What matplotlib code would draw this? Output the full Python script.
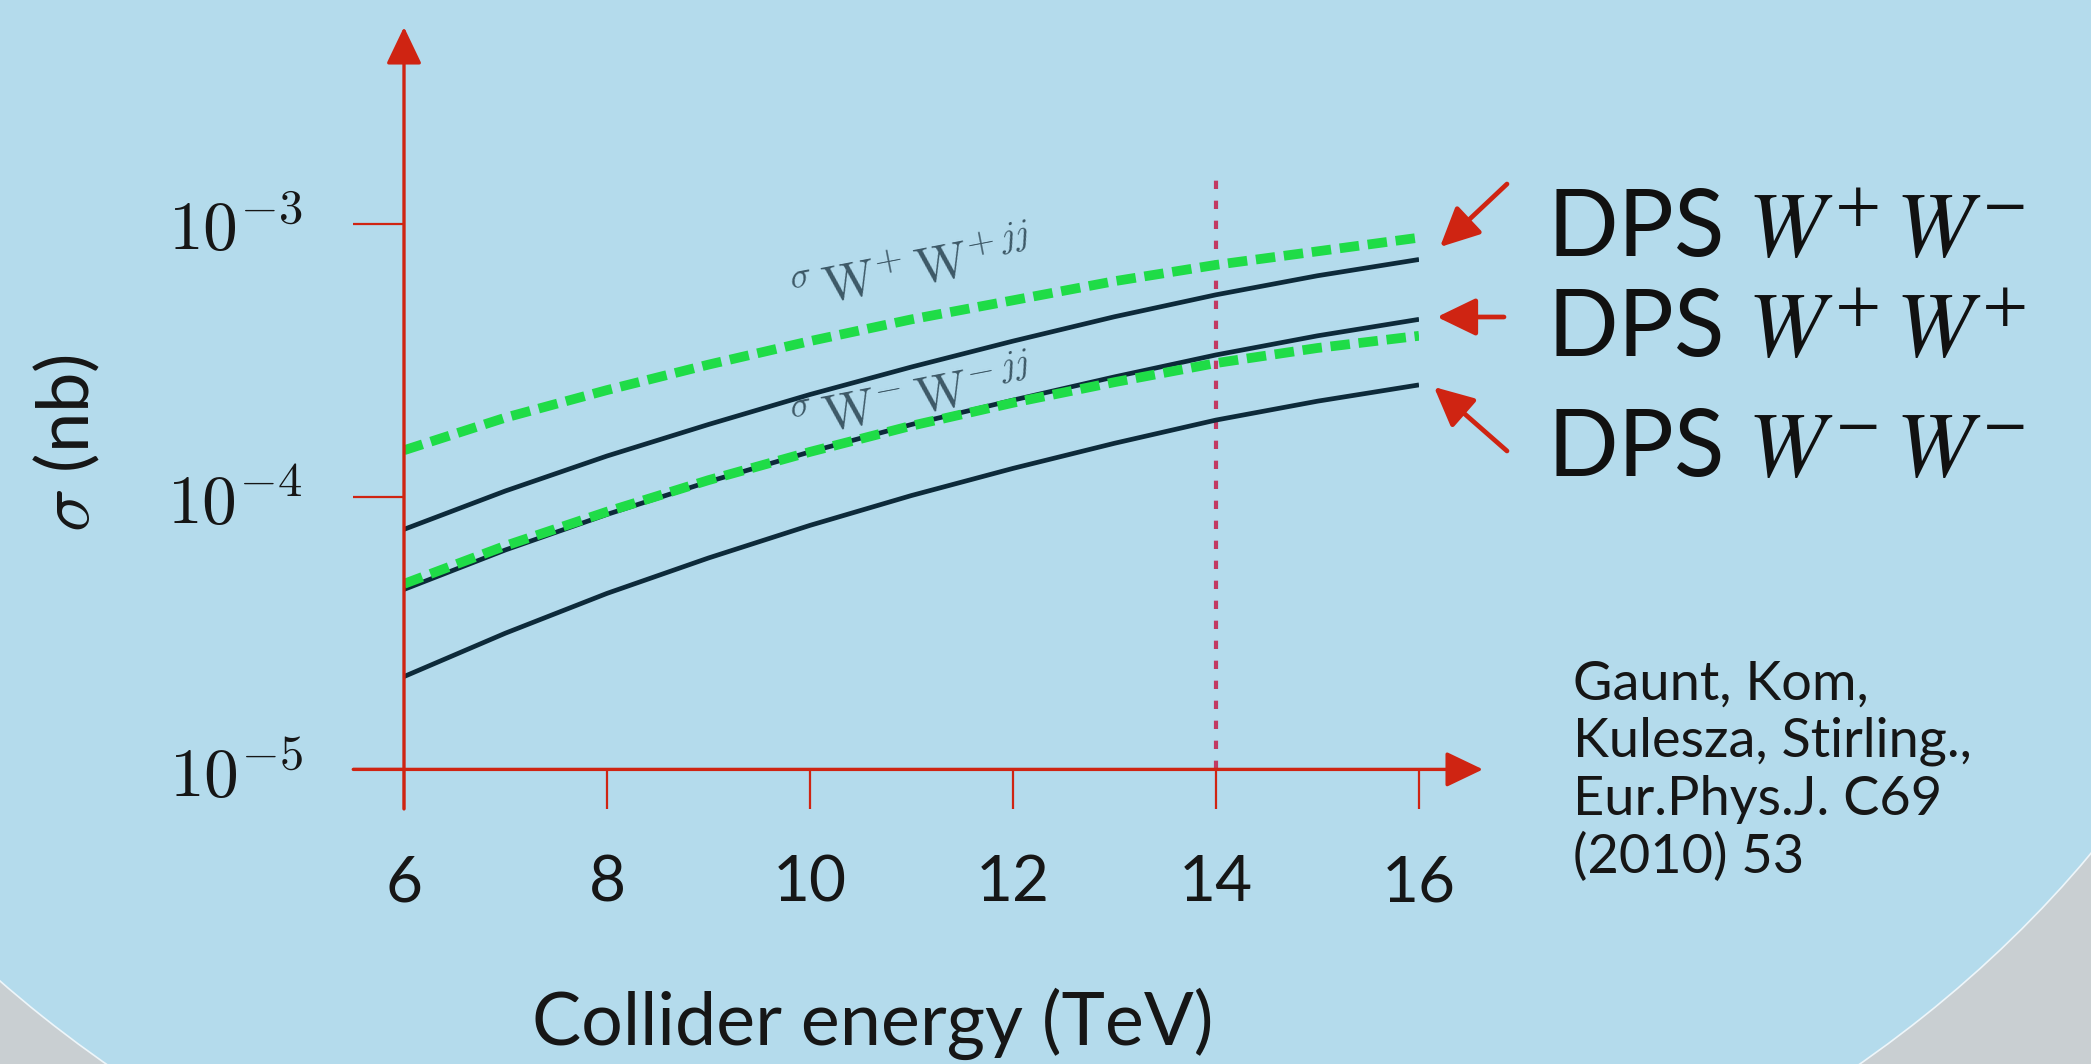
import matplotlib
matplotlib.use("Agg")
import matplotlib.pyplot as plt
from matplotlib.patches import Ellipse
from matplotlib.ticker import NullLocator

plt.rcParams['font.family'] = ['Lato', 'DejaVu Sans']
plt.rcParams['mathtext.fontset'] = 'cm'

# collider energy (TeV) and cross sections (nb)
ENERGY = [6, 7, 8, 9, 10, 11, 12, 13, 14, 15, 16]
DPS_PM = [7.59e-5, 1.05e-4, 1.41e-4, 1.84e-4, 2.37e-4, 2.99e-4, 3.72e-4, 4.57e-4, 5.50e-4, 6.46e-4, 7.41e-4]
DPS_PP = [4.57e-5, 6.38e-5, 8.61e-5, 1.135e-4, 1.46e-4, 1.84e-4, 2.26e-4, 2.75e-4, 3.31e-4, 3.89e-4, 4.47e-4]
DPS_MM = [2.19e-5, 3.16e-5, 4.42e-5, 5.96e-5, 7.85e-5, 1.01e-4, 1.27e-4, 1.57e-4, 1.91e-4, 2.24e-4, 2.57e-4]
JJ_PP = [1.48e-4, 1.95e-4, 2.46e-4, 3.05e-4, 3.72e-4, 4.47e-4, 5.25e-4, 6.17e-4, 7.08e-4, 7.94e-4, 8.91e-4]
JJ_MM = [4.79e-5, 6.61e-5, 8.81e-5, 1.15e-4, 1.46e-4, 1.82e-4, 2.21e-4, 2.63e-4, 3.09e-4, 3.51e-4, 3.89e-4]

LHC_ENERGY = 14
LHC_LINE_TOP = 1.57e-3

X_TICKS = [6, 8, 10, 12, 14, 16]
Y_TICKS = [1e-5, 1e-4, 1e-3]
Y_TICK_LABELS = [r"$10^{-5}$", r"$10^{-4}$", r"$10^{-3}$"]

DPS_LABELS = [r"DPS $W^{+}\,W^{-}$", r"DPS $W^{+}\,W^{+}$", r"DPS $W^{-}\,W^{-}$"]
JJ_LABELS = [r"$^{\sigma}\,\mathrm{W}^{+}\,\mathrm{W}^{+}{}^{jj}$", r"$^{\sigma}\,\mathrm{W}^{-}\,\mathrm{W}^{-}{}^{jj}$"]
REFERENCE = "Gaunt, Kom,\nKulesza, Stirling.,\nEur.Phys.J. C69\n(2010) 53"

BLUE = "#b4dbec"
GREY = "#c9cfd2"
RED = "#cf2412"
NAVY = "#0d2a3a"
GREEN = "#1fdc47"
W, H = 2091, 1064

fig = plt.figure(figsize=(W / 100, H / 100), dpi=100, facecolor=GREY)
fig.add_artist(Ellipse((983 / W, 797 / H), 2660 / W, 2120 / H, transform=fig.transFigure,
                       facecolor=BLUE, edgecolor="#eef6fa", lw=1.2, zorder=-5))

ax = fig.add_axes([404 / W, 294.6 / H, 1015 / W, 627.5 / H])
ax.set_facecolor("none")
ax.set_yscale("log")
ax.set_xlim(6, 16)
ax.set_ylim(1e-5, 2e-3)
for s in ax.spines.values():
    s.set_visible(False)

axis_arrow = dict(arrowstyle="-|>,head_length=1.15,head_width=0.55", mutation_scale=20,
                  color=RED, lw=2.4, shrinkA=0, shrinkB=0)
ax.annotate("", xy=(0, 1.183), xytext=(0, -0.063), xycoords="axes fraction",
            arrowprops=axis_arrow, annotation_clip=False)
ax.annotate("", xy=(1.063, 0), xytext=(-0.05, 0), xycoords="axes fraction",
            arrowprops=axis_arrow, annotation_clip=False)

ax.set_xticks(X_TICKS)
ax.set_xticklabels([str(t) for t in X_TICKS])
ax.set_yticks(Y_TICKS)
ax.set_yticklabels(Y_TICK_LABELS)
ax.yaxis.set_minor_locator(NullLocator())
ax.tick_params(axis="x", direction="out", length=29, width=1.6, color=RED, pad=32,
               labelsize=46, labelcolor="#161616")
ax.tick_params(axis="y", direction="out", length=37, width=1.6, color=RED, pad=36,
               labelsize=50, labelcolor="#161616")

ax.plot([LHC_ENERGY, LHC_ENERGY], [1e-5, LHC_LINE_TOP], color="#c23a63", lw=3.0,
        dashes=(2.0, 2.8), clip_on=False)

for series in (DPS_PM, DPS_PP, DPS_MM):
    ax.plot(ENERGY, series, color=NAVY, lw=3.4, solid_capstyle="butt")
for series in (JJ_PP, JJ_MM):
    ax.plot(ENERGY, series, color=GREEN, lw=7, dashes=(2.0, 0.9))

ax.text(11.0, 6.7e-4, JJ_LABELS[0], fontsize=37, color="#3d5866", rotation=11,
        ha="center", va="center", rotation_mode="anchor")
ax.text(11.0, 2.25e-4, JJ_LABELS[1], fontsize=37, color="#3d5866", rotation=11,
        ha="center", va="center", rotation_mode="anchor")

ax.set_xlabel("Collider energy (TeV)", fontsize=53, color="#161616", va="center")
ax.xaxis.set_label_coords(0.462, -0.406)
ax.set_ylabel(r"$\sigma$ (nb)", fontsize=52, color="#161616", va="center")
ax.yaxis.set_label_coords(-0.332, 0.52)

# labels on the right with arrows pointing at the curve ends
for label, base in zip(DPS_LABELS, (807, 707, 588)):
    fig.text(1547 / W, base / H, label, fontsize=67, color="#111111", ha="left",
             va="baseline", math_fontfamily="stix")

dps_arrow = dict(arrowstyle="-|>,head_length=1.2,head_width=0.58", mutation_scale=20,
                 color=RED, lw=3.4, shrinkA=0, shrinkB=0)
for tip, tail in (((1440, 817), (1507, 880)), ((1437, 747), (1504, 747)), ((1434, 677), (1507, 613))):
    ax.annotate("", xy=tip, xytext=tail, xycoords="figure pixels", arrowprops=dps_arrow,
                annotation_clip=False)

fig.text(1573 / W, (H - 660) / H, REFERENCE, fontsize=39, color="#161616", ha="left",
         va="top", linespacing=1.2)

fig.savefig("out.png", dpi=100, facecolor=GREY)
